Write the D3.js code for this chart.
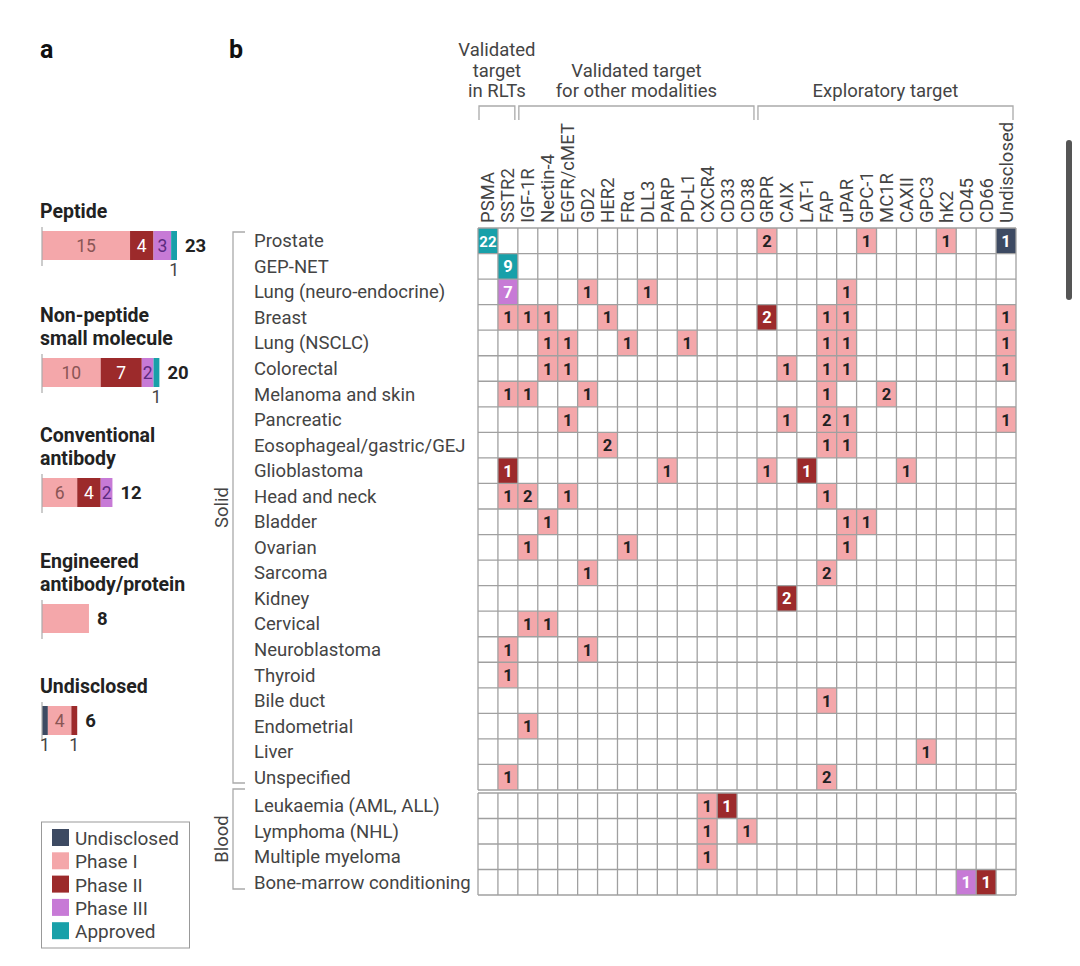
<!DOCTYPE html>
<html>
<head>
<meta charset="utf-8">
<script src="https://cdn.jsdelivr.net/npm/d3@7"></script>
<style>
  body { margin: 0; background: #fff; }
  text { font-family: Roboto, "Open Sans", sans-serif; fill: #444; }
</style>
</head>
<body>
<div id="chart"></div>
<script>

// data ====================

var phases = ["Undisclosed", "Phase I", "Phase II", "Phase III", "Approved"];
var phaseColors = ["#3d4a62", "#f4a7aa", "#9c2a2b", "#c77ad6", "#18a0a9"];
var phaseText = ["#fff", "#222", "#fff", "#fff", "#fff"];

// panel a
var modalities = ["Peptide", "Non-peptide small molecule", "Conventional antibody", "Engineered antibody/protein", "Undisclosed"];
var modalityTitles = [["Peptide"], ["Non-peptide", "small molecule"], ["Conventional", "antibody"], ["Engineered", "antibody/protein"], ["Undisclosed"]];
// counts per phase in order: Undisclosed, Phase I, Phase II, Phase III, Approved
var modalityCounts = [
  [0, 15, 4, 3, 1],
  [0, 10, 7, 2, 1],
  [0, 6, 4, 2, 0],
  [0, 8, 0, 0, 0],
  [1, 4, 1, 0, 0]
];
var modalityTotals = [23, 20, 12, 8, 6];

// panel b
var targets = ["PSMA", "SSTR2", "IGF-1R", "Nectin-4", "EGFR/cMET", "GD2", "HER2", "FRα", "DLL3", "PARP",
  "PD-L1", "CXCR4", "CD33", "CD38", "GRPR", "CAIX", "LAT-1", "FAP", "uPAR", "GPC-1", "MC1R", "CAXII",
  "GPC3", "hK2", "CD45", "CD66", "Undisclosed"];
var targetGroups = [
  { lines: ["Validated", "target", "in RLTs"], from: "PSMA", to: "SSTR2" },
  { lines: ["Validated target", "for other modalities"], from: "IGF-1R", to: "CD38" },
  { lines: ["Exploratory target"], from: "GRPR", to: "Undisclosed" }
];
var solidCancers = ["Prostate", "GEP-NET", "Lung (neuro-endocrine)", "Breast", "Lung (NSCLC)", "Colorectal",
  "Melanoma and skin", "Pancreatic", "Eosophageal/gastric/GEJ", "Glioblastoma", "Head and neck", "Bladder",
  "Ovarian", "Sarcoma", "Kidney", "Cervical", "Neuroblastoma", "Thyroid", "Bile duct", "Endometrial",
  "Liver", "Unspecified"];
var bloodCancers = ["Leukaemia (AML, ALL)", "Lymphoma (NHL)", "Multiple myeloma", "Bone-marrow conditioning"];

// [cancer, target, count, phase index]
var cells = [
  ["Prostate", "PSMA", 22, 4], ["Prostate", "GRPR", 2, 1], ["Prostate", "GPC-1", 1, 1], ["Prostate", "hK2", 1, 1], ["Prostate", "Undisclosed", 1, 0],
  ["GEP-NET", "SSTR2", 9, 4],
  ["Lung (neuro-endocrine)", "SSTR2", 7, 3], ["Lung (neuro-endocrine)", "GD2", 1, 1], ["Lung (neuro-endocrine)", "DLL3", 1, 1], ["Lung (neuro-endocrine)", "uPAR", 1, 1],
  ["Breast", "SSTR2", 1, 1], ["Breast", "IGF-1R", 1, 1], ["Breast", "Nectin-4", 1, 1], ["Breast", "HER2", 1, 1], ["Breast", "GRPR", 2, 2], ["Breast", "FAP", 1, 1], ["Breast", "uPAR", 1, 1], ["Breast", "Undisclosed", 1, 1],
  ["Lung (NSCLC)", "Nectin-4", 1, 1], ["Lung (NSCLC)", "EGFR/cMET", 1, 1], ["Lung (NSCLC)", "FRα", 1, 1], ["Lung (NSCLC)", "PD-L1", 1, 1], ["Lung (NSCLC)", "FAP", 1, 1], ["Lung (NSCLC)", "uPAR", 1, 1], ["Lung (NSCLC)", "Undisclosed", 1, 1],
  ["Colorectal", "Nectin-4", 1, 1], ["Colorectal", "EGFR/cMET", 1, 1], ["Colorectal", "CAIX", 1, 1], ["Colorectal", "FAP", 1, 1], ["Colorectal", "uPAR", 1, 1], ["Colorectal", "Undisclosed", 1, 1],
  ["Melanoma and skin", "SSTR2", 1, 1], ["Melanoma and skin", "IGF-1R", 1, 1], ["Melanoma and skin", "GD2", 1, 1], ["Melanoma and skin", "FAP", 1, 1], ["Melanoma and skin", "MC1R", 2, 1],
  ["Pancreatic", "EGFR/cMET", 1, 1], ["Pancreatic", "CAIX", 1, 1], ["Pancreatic", "FAP", 2, 1], ["Pancreatic", "uPAR", 1, 1], ["Pancreatic", "Undisclosed", 1, 1],
  ["Eosophageal/gastric/GEJ", "HER2", 2, 1], ["Eosophageal/gastric/GEJ", "FAP", 1, 1], ["Eosophageal/gastric/GEJ", "uPAR", 1, 1],
  ["Glioblastoma", "SSTR2", 1, 2], ["Glioblastoma", "PARP", 1, 1], ["Glioblastoma", "GRPR", 1, 1], ["Glioblastoma", "LAT-1", 1, 2], ["Glioblastoma", "CAXII", 1, 1],
  ["Head and neck", "SSTR2", 1, 1], ["Head and neck", "IGF-1R", 2, 1], ["Head and neck", "EGFR/cMET", 1, 1], ["Head and neck", "FAP", 1, 1],
  ["Bladder", "Nectin-4", 1, 1], ["Bladder", "uPAR", 1, 1], ["Bladder", "GPC-1", 1, 1],
  ["Ovarian", "IGF-1R", 1, 1], ["Ovarian", "FRα", 1, 1], ["Ovarian", "uPAR", 1, 1],
  ["Sarcoma", "GD2", 1, 1], ["Sarcoma", "FAP", 2, 1],
  ["Kidney", "CAIX", 2, 2],
  ["Cervical", "IGF-1R", 1, 1], ["Cervical", "Nectin-4", 1, 1],
  ["Neuroblastoma", "SSTR2", 1, 1], ["Neuroblastoma", "GD2", 1, 1],
  ["Thyroid", "SSTR2", 1, 1],
  ["Bile duct", "FAP", 1, 1],
  ["Endometrial", "IGF-1R", 1, 1],
  ["Liver", "GPC3", 1, 1],
  ["Unspecified", "SSTR2", 1, 1], ["Unspecified", "FAP", 2, 1],
  ["Leukaemia (AML, ALL)", "CXCR4", 1, 1], ["Leukaemia (AML, ALL)", "CD33", 1, 2],
  ["Lymphoma (NHL)", "CXCR4", 1, 1], ["Lymphoma (NHL)", "CD38", 1, 1],
  ["Multiple myeloma", "CXCR4", 1, 1],
  ["Bone-marrow conditioning", "CD45", 1, 3], ["Bone-marrow conditioning", "CD66", 1, 2]
];

// svg ====================

var width = 1080, height = 966;
var fs = '18.5px';

var svg = d3.select('#chart')
  .append('svg')
  .attr('width', width)
  .attr('height', height);

svg.append('text').attr('x', 40).attr('y', 58).text('a')
  .style('font-size', '25px').style('font-weight', 'bold').style('fill', '#111');
svg.append('text').attr('x', 229).attr('y', 58).text('b')
  .style('font-size', '25px').style('font-weight', 'bold').style('fill', '#111');

// panel a ====================

var barX = d3.scaleLinear().domain([0, 23]).range([42, 177]);
var barTops = [231, 358, 478, 604, 706];
var barH = 29;
var segLabel = ["#fff", "#8a5555", "#fff", "#5d2a80", "#fff"];

modalities.forEach(function(m, i) {
  var g = svg.append('g');
  var y0 = barTops[i];
  var titles = modalityTitles[i];
  titles.forEach(function(t, j) {
    g.append('text')
      .attr('x', 40)
      .attr('y', y0 - 13 - (titles.length - 1 - j) * 23)
      .text(t)
      .style('font-size', '19.5px')
      .style('font-weight', 'bold')
      .style('fill', '#222');
  });

  var cum = 0;
  var segs = [];
  modalityCounts[i].forEach(function(c, p) {
    if (c > 0) {
      segs.push({ p: p, start: cum, end: cum + c, c: c });
      cum += c;
    }
  });

  g.selectAll('rect').data(segs).enter().append('rect')
    .attr('x', function(d) { return barX(d.start); })
    .attr('y', y0)
    .attr('width', function(d) { return barX(d.end) - barX(d.start); })
    .attr('height', barH)
    .style('fill', function(d) { return phaseColors[d.p]; });

  // baseline
  g.append('line')
    .attr('x1', 42).attr('x2', 42)
    .attr('y1', y0 - 4).attr('y2', y0 + barH + 6)
    .style('stroke', '#aaa').style('stroke-width', 1.2);

  if (segs.length > 1) {
    segs.forEach(function(d) {
      var cx = (barX(d.start) + barX(d.end)) / 2;
      var inside = (barX(d.end) - barX(d.start)) > 7;
      g.append('text')
        .attr('x', cx)
        .attr('y', inside ? y0 + barH / 2 + 6.5 : y0 + barH + 16)
        .attr('text-anchor', 'middle')
        .text(d.c)
        .style('font-size', '17.5px')
        .style('fill', inside ? segLabel[d.p] : '#444');
    });
  }

  g.append('text')
    .attr('x', barX(modalityTotals[i]) + 8)
    .attr('y', y0 + barH / 2 + 6.5)
    .text(modalityTotals[i])
    .style('font-size', '18.5px')
    .style('font-weight', 'bold')
    .style('fill', '#222');
});

// legend
var legend = svg.append('g');
legend.append('rect')
  .attr('x', 41.5).attr('y', 822).attr('width', 148).attr('height', 126)
  .style('fill', 'none').style('stroke', '#999').style('stroke-width', 1);
phases.forEach(function(p, i) {
  legend.append('rect')
    .attr('x', 52).attr('y', 829 + i * 23.3)
    .attr('width', 17).attr('height', 17)
    .style('fill', phaseColors[i]);
  legend.append('text')
    .attr('x', 75).attr('y', 845 + i * 23.3)
    .text(p)
    .style('font-size', '19px')
    .style('fill', '#444');
});

// panel b ====================

var x = d3.scaleBand().domain(targets).range([478, 1016]);
var ySolid = d3.scaleBand().domain(solidCancers).range([228, 790]);
var yBlood = d3.scaleBand().domain(bloodCancers).range([793, 895]);
var rowY = function(c) {
  return solidCancers.indexOf(c) >= 0 ? ySolid(c) : yBlood(c);
};
var rowH = ySolid.bandwidth();

// filled cells
svg.append('g').selectAll('rect').data(cells).enter().append('rect')
  .attr('x', function(d) { return x(d[1]); })
  .attr('y', function(d) { return rowY(d[0]); })
  .attr('width', x.bandwidth())
  .attr('height', rowH)
  .style('fill', function(d) { return phaseColors[d[3]]; });

// grid lines on top of the cells
[[ySolid, solidCancers], [yBlood, bloodCancers]].forEach(function(block) {
  var y = block[0], rows = block[1];
  var r0 = y.range()[0], r1 = y.range()[1];
  var gl = svg.append('g');
  d3.range(targets.length + 1).forEach(function(i) {
    var xx = i < targets.length ? x(targets[i]) : x.range()[1];
    gl.append('line')
      .attr('x1', xx).attr('x2', xx).attr('y1', r0).attr('y2', r1)
      .style('stroke', '#a0a0a0').style('stroke-width', 1.3);
  });
  d3.range(rows.length + 1).forEach(function(j) {
    var yy = j < rows.length ? y(rows[j]) : r1;
    gl.append('line')
      .attr('x1', 478).attr('x2', 1016).attr('y1', yy).attr('y2', yy)
      .style('stroke', '#a0a0a0').style('stroke-width', 1.3);
  });
});

// cell numbers
svg.append('g').selectAll('text').data(cells).enter().append('text')
  .attr('x', function(d) { return x(d[1]) + x.bandwidth() / 2; })
  .attr('y', function(d) { return rowY(d[0]) + rowH / 2 + 6; })
  .attr('text-anchor', 'middle')
  .text(function(d) { return d[2]; })
  .style('font-size', function(d) { return d[2] > 9 ? '15px' : '16.5px'; })
  .style('font-weight', 'bold')
  .style('fill', function(d) { return phaseText[d[3]]; });

// column labels
svg.append('g').selectAll('text').data(targets).enter().append('text')
  .attr('transform', function(d) { return 'translate(' + (x(d) + x.bandwidth() / 2 + 6.5) + ',223) rotate(-90)'; })
  .text(function(d) { return d; })
  .style('font-size', fs);

// row labels
svg.append('g').selectAll('text').data(solidCancers.concat(bloodCancers)).enter().append('text')
  .attr('x', 254)
  .attr('y', function(d) { return rowY(d) + rowH / 2 + 6.5; })
  .text(function(d) { return d; })
  .style('font-size', fs);

// target group headers
targetGroups.forEach(function(g) {
  var x0 = x(g.from) + 1, x1 = x(g.to) + x.bandwidth() - 3;
  svg.append('path')
    .attr('d', 'M' + x0 + ',120V106H' + x1 + 'V120')
    .style('fill', 'none').style('stroke', '#aaa').style('stroke-width', 1.3);
  var cx = (x0 + x1) / 2;
  g.lines.forEach(function(l, j) {
    svg.append('text')
      .attr('x', cx)
      .attr('y', 97 - (g.lines.length - 1 - j) * 20.5)
      .attr('text-anchor', 'middle')
      .text(l)
      .style('font-size', fs);
  });
});

// Solid / Blood brackets
[["Solid", 232, 783], ["Blood", 789, 889]].forEach(function(b) {
  svg.append('path')
    .attr('d', 'M245,' + b[1] + 'H233V' + b[2] + 'H245')
    .style('fill', 'none').style('stroke', '#aaa').style('stroke-width', 1.3);
  svg.append('text')
    .attr('transform', 'translate(228,' + ((b[1] + b[2]) / 2) + ') rotate(-90)')
    .attr('text-anchor', 'middle')
    .text(b[0])
    .style('font-size', fs);
});

// scrollbar from the screenshot
svg.append('rect')
  .attr('x', 1066).attr('y', 140).attr('width', 6).attr('height', 160).attr('rx', 3)
  .style('fill', '#555');

</script>
</body>
</html>
